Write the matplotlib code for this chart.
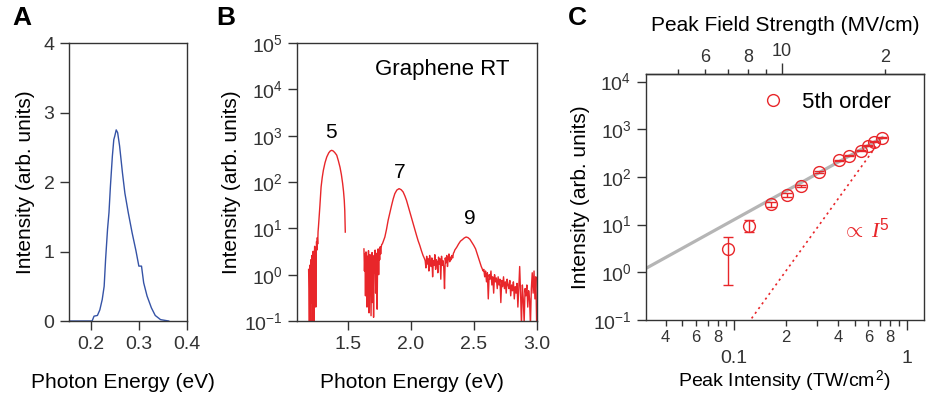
import numpy as np
import matplotlib.pyplot as plt
from matplotlib.lines import Line2D
from matplotlib.ticker import NullLocator

plt.rcParams['font.family'] = ['Liberation Sans', 'DejaVu Sans']
plt.rcParams['mathtext.fontset'] = 'custom'
plt.rcParams['mathtext.rm'] = 'Liberation Sans'
plt.rcParams['mathtext.it'] = 'Liberation Serif:italic'
plt.rcParams['axes.unicode_minus'] = False
plt.rcParams['axes.linewidth'] = 1.0
plt.rcParams['axes.edgecolor'] = '#333333'
plt.rcParams['xtick.color'] = '#333333'
plt.rcParams['ytick.color'] = '#333333'

RED = '#e8262a'
BLUE = '#3553a6'

# ---- panel A : fundamental spectrum (linear)
a_energy = [0.155, 0.203, 0.207, 0.214, 0.219, 0.224, 0.228, 0.231, 0.235, 0.238,
            0.241, 0.245, 0.248, 0.250, 0.253, 0.256, 0.260, 0.266, 0.271, 0.278,
            0.286, 0.294, 0.300, 0.3055, 0.310, 0.317, 0.326, 0.334, 0.345, 0.362]
a_intensity = [0.0, 0.0, 0.07, 0.08, 0.16, 0.31, 0.50, 0.89, 1.32, 1.56,
               1.94, 2.37, 2.61, 2.66, 2.75, 2.71, 2.52, 2.13, 1.84, 1.56,
               1.27, 1.01, 0.79, 0.79, 0.55, 0.36, 0.19, 0.08, 0.02, 0.0]

# ---- panel B : harmonic spectrum (log), 5th order window
b5_noise = [1.3, 0.5, 0.1, 1.6, 0.9, 0.08, 2.1, 1.0, 0.25, 2.6, 0.07, 1.8, 3.2,
            0.8, 0.09, 2.3, 4.1, 1.3, 3.6, 0.2, 2.9, 5.2, 3.4, 6.3, 4.6, 8.5]
b5_energy = [1.268, 1.279, 1.289, 1.298, 1.307, 1.320, 1.334, 1.350, 1.362, 1.373,
             1.385, 1.398, 1.413, 1.426, 1.439, 1.450, 1.460, 1.467, 1.473, 1.477, 1.481]
b5_intensity = [10.7, 29, 78, 125, 179, 260, 347, 427, 468, 483,
                468, 431, 380, 288, 209, 145, 93, 63, 40, 24, 8.3]

# 7th + 9th order window
b7_noise = [3.6, 1.2, 2.8, 0.35, 3.1, 1.6, 0.2, 2.5, 0.9, 3.3, 0.15, 1.4, 2.7, 0.5,
            0.13, 2.2, 3.0, 0.25, 1.9, 0.12, 2.6, 1.1, 3.4, 0.4, 2.9, 1.5, 0.18, 2.4,
            3.6, 1.0, 3.2, 2.1, 4.0, 2.8, 3.9, 4.5]
b7_energy = [1.775, 1.795, 1.808, 1.821, 1.835, 1.848, 1.861, 1.874, 1.890, 1.908,
             1.925, 1.940, 1.954, 1.967, 1.980, 1.993, 2.006, 2.019, 2.032, 2.046,
             2.059, 2.072, 2.085, 2.098, 2.110]
b7_intensity = [4.6, 6.5, 9.5, 14.9, 22, 31, 43, 56, 67, 72,
                68, 61, 50, 40, 30, 22.5, 17, 12.6, 9.5, 7.1,
                5.4, 4.3, 3.3, 2.6, 2.2]
b_plateau = [2.0, 1.4, 2.5, 1.7, 2.2, 1.2, 2.6, 1.8, 1.5, 2.3, 0.9, 2.0, 1.6, 2.7,
             1.3, 2.1, 1.9, 1.1, 2.4, 1.7, 2.2, 0.8, 2.5, 1.6, 2.0, 1.4, 0.5, 2.3,
             1.8, 2.6, 1.5, 2.2, 2.8, 1.9, 2.4, 2.1, 2.6, 2.3, 2.9, 3.1]
b9_energy = [2.350, 2.365, 2.380, 2.395, 2.410, 2.425, 2.440, 2.455, 2.470, 2.485,
             2.500, 2.515, 2.530, 2.545, 2.560, 2.575]
b9_intensity = [3.4, 3.9, 4.6, 5.3, 5.7, 6.2, 6.5, 6.3, 5.8, 5.0,
                4.3, 3.6, 2.7, 2.0, 1.5, 1.2]
b_tail = [1.3, 0.9, 1.2, 0.7, 1.1, 0.3, 1.0, 0.8, 1.2, 0.6, 0.9, 0.4, 1.0, 0.7,
          0.85, 0.5, 0.9, 0.6, 0.8, 0.25, 0.75, 0.55, 0.9, 0.5, 0.7, 0.4, 0.8, 0.6,
          0.5, 0.75, 0.35, 0.6, 0.45, 0.7, 0.3, 0.55, 0.4, 0.65, 0.2, 0.5, 1.5, 0.4,
          0.08, 0.6, 0.3, 0.09, 0.5, 0.35, 0.6, 0.2, 0.45, 0.3, 0.08, 0.5, 1.1, 0.4,
          1.2, 0.3, 0.9, 0.07]

# ---- panel C : 5th order vs peak intensity
c_peak_int = [0.0916, 0.121, 0.164, 0.202, 0.244, 0.311, 0.406, 0.464, 0.541, 0.598, 0.648, 0.722]
c_signal = [3.03, 9.5, 26.7, 41.8, 65.5, 127, 223, 278, 354, 451, 547, 664]
c_err_lo = [2.49, 2.4, 3.5, 3.5, 3.5, 4, 5, 5, 6, 7, 8, 9]
c_err_hi = [2.39, 3.0, 3.5, 3.5, 3.5, 4, 5, 5, 6, 7, 8, 9]
fit_int = [0.0308, 0.722]
fit_signal = [1.21, 664]
i5_int = [0.11, 0.722]
i5_signal = [0.0545, 664]
field_per_sqrt_int = 23.05   # MV/cm per sqrt(TW/cm^2)

fig = plt.figure(figsize=(9.31, 3.95), dpi=100)

# ---------------- A
axA = fig.add_axes([0.0741, 0.1873, 0.1268, 0.7038])
axA.plot(a_energy, a_intensity, color=BLUE, lw=1.0)
axA.set_xlim(0.155, 0.4)
axA.set_ylim(0, 4)
axA.set_xticks([0.2, 0.3, 0.4])
axA.set_yticks([0, 1, 2, 3, 4])
axA.tick_params(direction='out', length=6.5, width=1.0, labelsize=14, pad=4)
axA.set_ylabel('Intensity (arb. units)', fontsize=15, labelpad=6)

# ---------------- B
axB = fig.add_axes([0.3193, 0.1873, 0.2572, 0.7038])
e5 = np.concatenate([np.linspace(1.19, 1.265, len(b5_noise)), b5_energy])
i5 = np.concatenate([b5_noise, b5_intensity])
e7 = np.concatenate([np.linspace(1.629, 1.77, len(b7_noise)), b7_energy,
                     np.linspace(2.115, 2.345, len(b_plateau)), b9_energy,
                     np.linspace(2.58, 3.0, len(b_tail))])
i7 = np.concatenate([b7_noise, b7_intensity, b_plateau, b9_intensity, b_tail])
axB.plot(e5, i5, color=RED, lw=1.0)
axB.plot(e7, i7, color=RED, lw=1.0)
axB.set_yscale('log')
axB.set_xlim(1.1, 3.0)
axB.set_ylim(0.1, 1e5)
axB.set_xticks([1.5, 2.0, 2.5, 3.0])
axB.set_xticklabels(['1.5', '2.0', '2.5', '3.0'])
axB.set_yticks([1e-1, 1e0, 1e1, 1e2, 1e3, 1e4, 1e5])
axB.yaxis.set_minor_locator(NullLocator())
axB.tick_params(direction='out', length=6.5, width=1.0, labelsize=14, pad=4)
axB.set_ylabel('Intensity (arb. units)', fontsize=15, labelpad=2)
axB.text(0.604, 0.905, 'Graphene RT', transform=axB.transAxes, fontsize=16,
         ha='center', va='center')
axB.text(1.368, 1175, '5', fontsize=15, ha='center', va='center')
axB.text(1.914, 162, '7', fontsize=15, ha='center', va='center')
axB.text(2.467, 16.4, '9', fontsize=15, ha='center', va='center')

for xc in (123, 412):
    fig.text(xc / 931, 1 - 383 / 395, 'Photon Energy (eV)', fontsize=15,
             ha='center', va='center')

# ---------------- C
axC = fig.add_axes([0.6939, 0.1899, 0.2986, 0.6228])
axC.set_xscale('log')
axC.set_yscale('log')
axC.plot(fit_int, fit_signal, color='#b5b5b5', lw=2.3, zorder=1)
axC.plot(i5_int, i5_signal, color=RED, lw=1.2, ls=(0, (1.3, 2.2)), zorder=2)
axC.errorbar(c_peak_int, c_signal, yerr=[c_err_lo, c_err_hi], fmt='o', ms=8.5,
             mfc='none', mec=RED, mew=1.0, ecolor=RED, elinewidth=1.0,
             capsize=3.5, capthick=1.0, zorder=3)
axC.set_xlim(0.0308, 1.26)
axC.set_ylim(0.1, 1.44e4)
axC.set_yticks([1e-1, 1e0, 1e1, 1e2, 1e3, 1e4])
axC.yaxis.set_minor_locator(NullLocator())
axC.set_xticks([0.1, 1])
axC.set_xticklabels(['0.1', '1'])
minor_x = [0.04, 0.05, 0.06, 0.07, 0.08, 0.09, 0.2, 0.3, 0.4, 0.5, 0.6, 0.7, 0.8, 0.9]
minor_lbl = ['4', '', '6', '', '8', '', '2', '', '4', '', '6', '', '8', '']
axC.set_xticks(minor_x, minor=True)
axC.set_xticklabels(minor_lbl, minor=True)
axC.tick_params(axis='y', direction='out', length=6.5, width=1.0, labelsize=14, pad=4)
axC.tick_params(axis='x', which='major', direction='out', length=7.5, width=1.0,
                labelsize=14, pad=14)
axC.tick_params(axis='x', which='minor', direction='out', length=4.2, width=1.0,
                labelsize=12, pad=3)
axC.set_ylabel('Intensity (arb. units)', fontsize=15, labelpad=2)
axC.set_xlabel('Peak Intensity (TW/cm$^{\\,2}$)', fontsize=14, labelpad=0)
axC.xaxis.set_label_coords(0.5, -0.2)

secax = axC.secondary_xaxis(
    'top',
    functions=(lambda x: field_per_sqrt_int * np.sqrt(np.clip(x, 1e-12, None)),
               lambda e: (np.asarray(e) / field_per_sqrt_int) ** 2))
secax.set_xscale('log')
secax.set_xticks([10])
secax.set_xticklabels(['10'])
secax.set_xticks([5, 6, 7, 8, 9, 20], minor=True)
secax.set_xticklabels(['', '6', '', '8', '', '2'], minor=True)
secax.tick_params(which='major', direction='out', length=8, width=1.0, labelsize=13, pad=2)
secax.tick_params(which='minor', direction='out', length=3.6, width=1.0, labelsize=13, pad=2)
secax.set_xlabel('Peak Field Strength (MV/cm)', fontsize=15, labelpad=9)

axC.text(0.42, 7.7, r'$\propto\ \mathit{I}^{5}$', color=RED, fontsize=16,
         ha='left', va='center')
handle = Line2D([], [], ls='none', marker='o', ms=8.5, mfc='none', mec=RED, mew=1.0)
axC.legend([handle], ['5th order'], loc='upper right', bbox_to_anchor=(0.93, 0.98),
           frameon=False, fontsize=16, handlelength=1.0, handletextpad=0.8,
           borderaxespad=0.2)

# panel letters
for letter, xl in (('A', 22), ('B', 226), ('C', 577)):
    fig.text(xl / 931, 1 - 18 / 395, letter, fontsize=19, fontweight='bold',
             family=['Liberation Sans Narrow', 'Liberation Sans', 'DejaVu Sans'],
             ha='center', va='center')

fig.savefig('out.png', dpi=100)
